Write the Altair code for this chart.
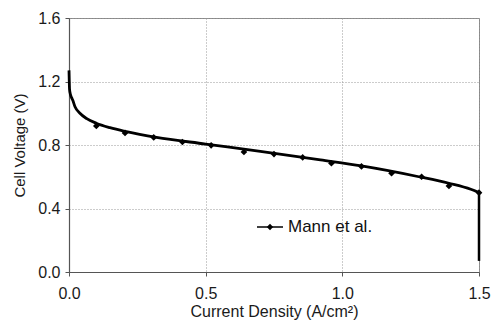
import altair as alt
import pandas as pd

# Model curve
model_x = [0.0, 0.001, 0.002, 0.005, 0.009, 0.0135, 0.022, 0.04, 0.065, 0.10, 0.15,
           0.21, 0.32, 0.50, 0.70, 0.92, 1.07, 1.28, 1.39, 1.47, 1.50]
model_y = [1.27, 1.20, 1.15, 1.12, 1.10, 1.083, 1.041, 1.00, 0.966, 0.937, 0.909,
           0.884, 0.848, 0.806, 0.760, 0.706, 0.668, 0.600, 0.559, 0.521, 0.500]
# vertical drop at limiting current
drop_x = [1.50]
drop_top = [0.50]
drop_bottom = [0.07]

# Markers
exp_x = [0.10, 0.205, 0.31, 0.415, 0.52, 0.64, 0.75, 0.855, 0.96, 1.07, 1.18, 1.29, 1.39, 1.50]
exp_y = [0.92, 0.876, 0.848, 0.819, 0.798, 0.756, 0.743, 0.722, 0.685, 0.665, 0.622, 0.600, 0.542, 0.500]

series_name = "Mann et al."
x_ticks = [0.0, 0.5, 1.0, 1.5]
y_ticks = [0.0, 0.4, 0.8, 1.2, 1.6]

FONT = "Liberation Sans"

model_df = pd.DataFrame({"x": model_x, "y": model_y, "i": range(len(model_x))})
drop_df = pd.DataFrame({"x": drop_x, "y": drop_top, "y2": drop_bottom})
exp_df = pd.DataFrame({"x": exp_x, "y": exp_y})

xscale = alt.Scale(domain=[0, 1.5], nice=False, zero=False)
yscale = alt.Scale(domain=[0, 1.6], nice=False, zero=False)

xaxis = alt.Axis(values=x_ticks, format=".1f", title="Current Density (A/cm²)",
                 grid=True, gridDash=[1, 2], gridColor="#999999", gridWidth=1,
                 domainColor="#555555", domainWidth=1.2, tickColor="#555555", tickSize=4,
                 labelFont=FONT, labelFontSize=16, labelColor="#1a1a1a", labelPadding=9,
                 titleFont=FONT, titleFontSize=16, titleFontWeight="normal",
                 titleColor="#1a1a1a", titlePadding=2, labelFlush=False)
yaxis = alt.Axis(values=y_ticks, format=".1f", title="Cell Voltage (V)",
                 grid=True, gridDash=[1, 2], gridColor="#999999", gridWidth=1,
                 domainColor="#555555", domainWidth=1.2, tickColor="#555555", tickSize=4,
                 labelFont=FONT, labelFontSize=16, labelColor="#1a1a1a", labelPadding=5,
                 titleFont=FONT, titleFontSize=15, titleFontWeight="normal",
                 titleColor="#1a1a1a", titlePadding=10, labelFlush=False)

line = alt.Chart(model_df).mark_line(color="black", strokeWidth=2.8, interpolate="monotone").encode(
    x=alt.X("x:Q", scale=xscale, axis=xaxis),
    y=alt.Y("y:Q", scale=yscale, axis=yaxis),
    order="i:Q",
)

drop = alt.Chart(drop_df).mark_rule(color="black", strokeWidth=2.5).encode(
    x=alt.X("x:Q", scale=xscale),
    y=alt.Y("y:Q", scale=yscale),
    y2="y2:Q",
)

pts = alt.Chart(exp_df).mark_point(shape="diamond", filled=True, color="black", size=45, opacity=1).encode(
    x=alt.X("x:Q", scale=xscale),
    y=alt.Y("y:Q", scale=yscale),
)

leg_df = pd.DataFrame({"label": [series_name]})
leg_line = alt.Chart(leg_df).mark_rule(color="black", strokeWidth=1.5).encode(
    x=alt.value(188), x2=alt.value(214), y=alt.value(209)
)
leg_pt = alt.Chart(leg_df).mark_point(shape="diamond", filled=True, color="black", size=40, opacity=1).encode(
    x=alt.value(201), y=alt.value(209)
)
leg_txt = alt.Chart(leg_df).mark_text(align="left", baseline="middle", font=FONT, fontSize=17,
                                      color="#111111").encode(
    x=alt.value(219), y=alt.value(209), text="label:N"
)

chart = alt.layer(line, drop, pts, leg_line, leg_pt, leg_txt).properties(
    width=410, height=254,
    autosize=alt.AutoSizeParams(type="none"),
    padding={"left": 69, "top": 18, "right": 12, "bottom": 58},
    background="white",
).configure_view(stroke="#888888", strokeWidth=1)

chart.save("out.html", embed_options={"renderer": "svg", "actions": False})
